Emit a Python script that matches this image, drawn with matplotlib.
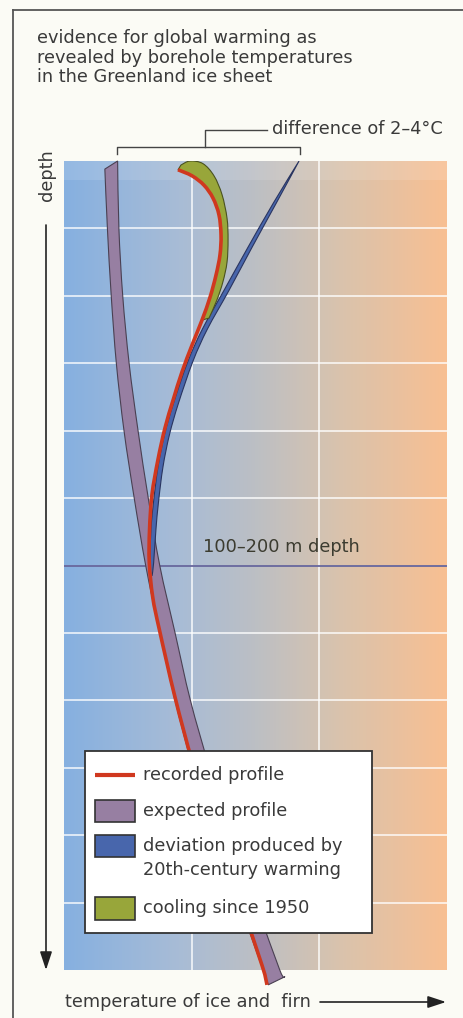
import numpy as np
import matplotlib
matplotlib.use("Agg")
import matplotlib.pyplot as plt
from matplotlib.colors import LinearSegmentedColormap
from matplotlib.patches import PathPatch, Rectangle
from matplotlib.path import Path

# temperature in grid columns (0..3), depth in grid rows (0 = surface, 12 = bottom)
exp_depth = [0, 1, 2, 3, 4, 5, 6, 7, 8, 9, 10, 11, 12, 12.22]
exp_left = [0.32, 0.34, 0.37, 0.41, 0.47, 0.55, 0.64, 0.75, 0.87, 1.01, 1.18, 1.37, 1.56, 1.60]
exp_right = [0.42, 0.43, 0.46, 0.51, 0.58, 0.66, 0.75, 0.87, 0.99, 1.14, 1.31, 1.50, 1.69, 1.73]

rec_depth = [0.13, 0.22, 0.36, 0.55, 0.80, 1.10, 1.39, 1.69, 2.02, 2.36, 2.73, 3.13, 3.55,
             3.96, 4.43, 4.95, 5.47, 5.96, 6.47, 6.96, 7.95, 8.94, 9.94, 10.93, 11.93, 12.22]
rec_temp = [0.893, 1.003, 1.097, 1.167, 1.214, 1.230, 1.222, 1.191, 1.144, 1.081, 1.003,
            0.924, 0.854, 0.791, 0.736, 0.689, 0.670, 0.668, 0.695, 0.748, 0.869, 1.010,
            1.183, 1.371, 1.551, 1.590]

dev_depth = [0, 0.62, 1.28, 1.92, 2.49, 2.97, 3.59, 4.06, 4.54, 5.06, 5.47, 5.96, 6.15]
dev_left = [1.841, 1.641, 1.441, 1.253, 1.085, 0.971, 0.858, 0.787, 0.736, 0.701, 0.681, 0.672,
            0.676]
dev_right = [1.841, 1.664, 1.473, 1.292, 1.124, 1.010, 0.897, 0.826, 0.775, 0.740, 0.720,
             0.702, 0.690]

cool_depth = [0.06, 0.0, 0.04, 0.22, 0.50, 0.85, 1.17, 1.50, 1.79, 2.06, 2.33]
cool_temp = [0.916, 0.987, 1.089, 1.175, 1.238, 1.277, 1.285, 1.277, 1.245, 1.198, 1.136]

marker_depth = 6
temp_grid = [1, 2]
depth_grid = list(range(1, 12))

labels = ["recorded profile", "expected profile",
          "deviation produced by", "20th-century warming", "cooling since 1950"]

c_red = "#d0381f"
c_purple, e_purple = "#977fa2", "#4a4052"
c_blue, e_blue = "#4866ac", "#2a3560"
c_green, e_green = "#98a63a", "#4a5220"
txt = "#3a3a3a"

plt.rcParams["font.family"] = ["DejaVu Sans"]
fs = 12.8


def smooth(x, y):
    # Catmull-Rom through the read points, drawn as cubic Bezier segments
    p = np.column_stack([x, y]).astype(float)
    ext = np.vstack([p[0], p, p[-1]])
    verts, codes = [p[0]], [Path.MOVETO]
    for i in range(len(p) - 1):
        p0, p1, p2, p3 = ext[i], ext[i + 1], ext[i + 2], ext[i + 3]
        verts += [p1 + (p2 - p0) / 6, p2 - (p3 - p1) / 6, p2]
        codes += [Path.CURVE4] * 3
    return verts, codes


def band(xa, ya, xb, yb):
    va, ca = smooth(xa, ya)
    vb, cb = smooth(xb[::-1], yb[::-1])
    cb[0] = Path.LINETO
    return Path(va + vb + [va[0]], ca + cb + [Path.CLOSEPOLY])


fig = plt.figure(figsize=(4.64, 10.18), dpi=100, facecolor="#fbfbf5")
ax = fig.add_axes([64 / 464, 1 - 970 / 1018, 383 / 464, 809 / 1018])
ax.set_xlim(0, 3)
ax.set_ylim(12, 0)

# background gradient cold -> warm
cmap = LinearSegmentedColormap.from_list(
    "icetemp", [(0.0, "#86b0e0"), (0.3, "#a8bcd6"), (0.5, "#bcbfc4"),
                (0.72, "#d9c3ad"), (1.0, "#f8bf92")])
grad = np.linspace(0, 1, 256)[None, :]
ax.imshow(grad, cmap=cmap, extent=(0, 3, 12, 0), aspect="auto", zorder=0)
ax.axhspan(0, 0.28, color="white", alpha=0.12, lw=0, zorder=0.5)

ax.set_xticks(temp_grid)
ax.set_yticks(depth_grid)
ax.grid(color="white", lw=1.2, alpha=0.85)
ax.tick_params(length=0, labelbottom=False, labelleft=False)
for s in ax.spines.values():
    s.set_visible(False)

# expected profile band (slanted ends)
left_d = list(exp_depth)
left_d[0] = 0.12
right_d = list(exp_depth)
right_d[-1] = 12.1
ax.add_patch(PathPatch(band(exp_right, right_d, exp_left, left_d),
                       fc=c_purple, ec=e_purple, lw=0.8, zorder=3, clip_on=False))

# deviation produced by 20th-century warming
ax.add_patch(PathPatch(band(dev_left, dev_depth, dev_right, dev_depth),
                       fc=c_blue, ec=e_blue, lw=0.8, zorder=4))

# cooling since 1950: between its outer edge and the recorded profile
rec_d = np.array(rec_depth)
rec_t = np.array(rec_temp)
top = rec_d <= cool_depth[-1] + 0.05
ax.add_patch(PathPatch(band(cool_temp, cool_depth, list(rec_t[top]), list(rec_d[top])),
                       fc=c_green, ec=e_green, lw=0.8, zorder=5))

# recorded profile
v, c = smooth(rec_temp, rec_depth)
ax.add_patch(PathPatch(Path(v, c), fill=False, ec=c_red, lw=2.6, zorder=6,
                       clip_on=False, capstyle="butt"))

ax.axhline(marker_depth, color="#4a4a8a", lw=1.1, zorder=2)
ax.text(1.70, marker_depth - 0.27, "100\u2013200 m depth", ha="center", va="center",
        fontsize=fs, color="#3c3c30", zorder=7)

# overlay in pixel space for frame, titles, arrows and key
ov = fig.add_axes([0, 0, 1, 1], zorder=5)
ov.set_xlim(0, 464)
ov.set_ylim(1018, 0)
ov.axis("off")

ov.plot([13, 464], [9.5, 9.5], color="#555555", lw=1.3)
ov.plot([13, 13], [9.5, 1018], color="#555555", lw=1.3)

title_lines = ["evidence for global warming as",
               "revealed by borehole temperatures",
               "in the Greenland ice sheet"]
for i, line in enumerate(title_lines):
    ov.text(37, 43 + 19.5 * i, line, fontsize=fs, color=txt, va="baseline", ha="left")

# bracket
ov.plot([117, 117, 300, 300], [154, 147, 147, 154], color="#444444", lw=1.0)
ov.plot([205, 205, 267], [147, 130, 130], color="#444444", lw=1.0)
ov.text(272, 129, "difference of 2\u20134\u00b0C", fontsize=fs, color=txt,
        va="center", ha="left")

# depth arrow
ov.text(47, 175, "depth", rotation=90, fontsize=fs, color=txt, ha="center", va="center")
ov.annotate("", xy=(46, 970), xytext=(46, 225),
            arrowprops=dict(arrowstyle="-|>,head_length=1.0,head_width=0.33",
                            mutation_scale=11, lw=1.2, color="#222222",
                            shrinkA=0, shrinkB=0))

# temperature arrow
ov.text(65, 1002, "temperature of ice and  firn", fontsize=fs, color=txt,
        va="center", ha="left")
ov.annotate("", xy=(446, 1002), xytext=(320, 1002),
            arrowprops=dict(arrowstyle="-|>,head_length=1.0,head_width=0.33",
                            mutation_scale=11, lw=1.2, color="#222222",
                            shrinkA=0, shrinkB=0))

# key
ov.add_patch(Rectangle((85, 751), 287, 182, fc="white", ec="#333333", lw=1.3))
ov.plot([95, 135], [775, 775], color=c_red, lw=3.0, solid_capstyle="butt")
ov.add_patch(Rectangle((95, 800), 40, 22, fc=c_purple, ec="#333333", lw=1.2))
ov.add_patch(Rectangle((95, 835), 40, 22, fc=c_blue, ec="#333333", lw=1.2))
ov.add_patch(Rectangle((95, 897), 40, 23, fc=c_green, ec="#333333", lw=1.2))
for y, lab in zip([775, 811, 846, 870, 908], labels):
    ov.text(143, y, lab, fontsize=fs, color=txt, va="center", ha="left")

fig.savefig("out.png", dpi=100, facecolor=fig.get_facecolor())
